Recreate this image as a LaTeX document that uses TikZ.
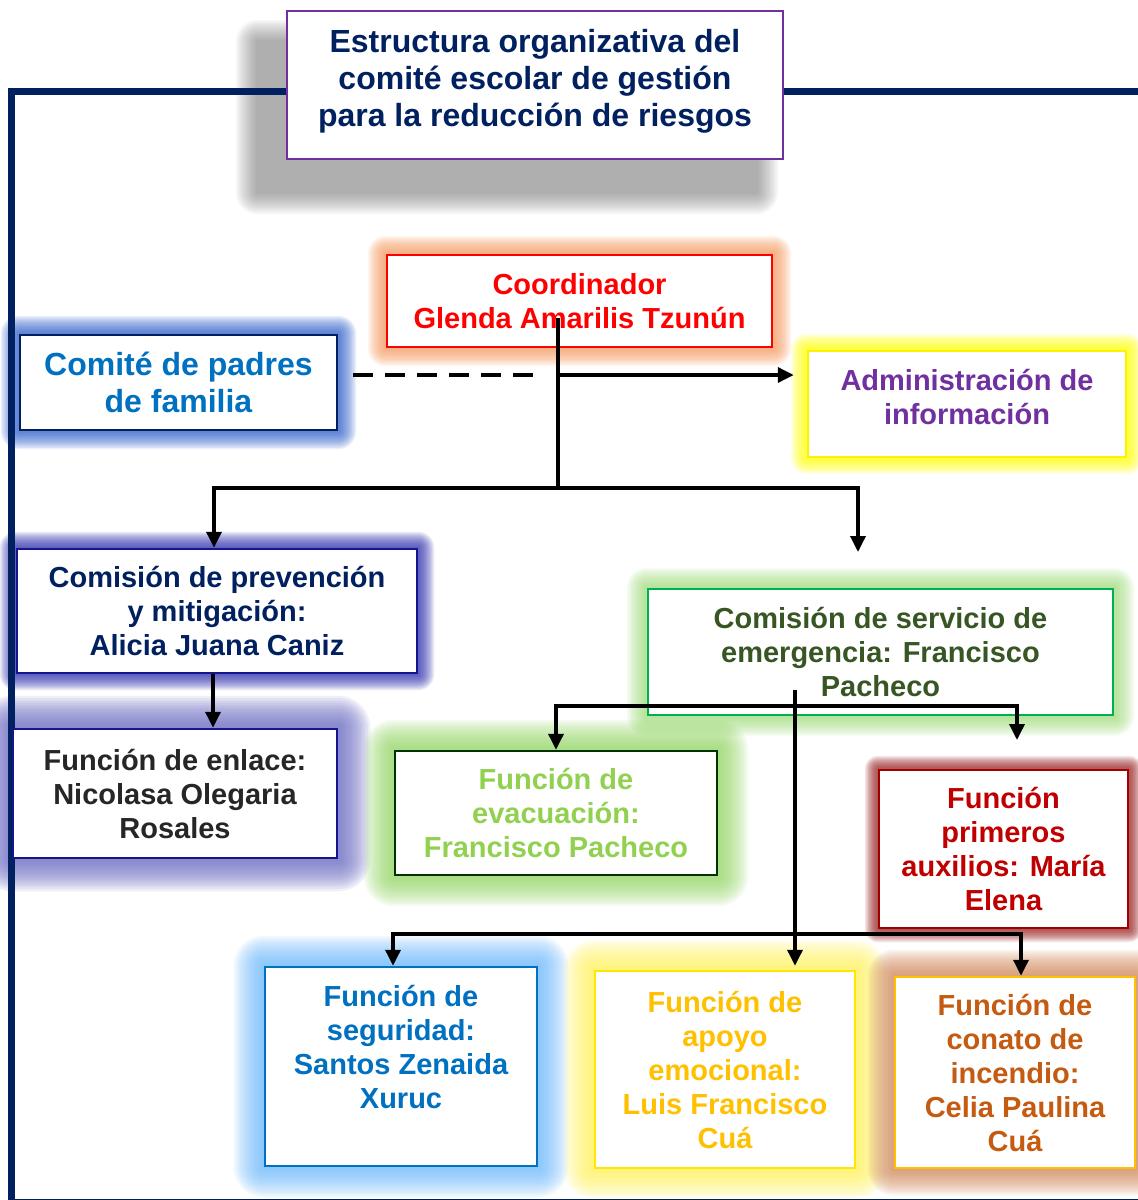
\documentclass[tikz,border=0pt]{standalone}
\usepackage{fontspec}
\setmainfont{Liberation Sans}
\usetikzlibrary{arrows.meta,calc}
\pgfdeclarelayer{background}
\pgfsetlayers{background,main}

\definecolor{navy}{RGB}{0,32,96}
\definecolor{titlepurple}{RGB}{112,48,160}
\definecolor{infopurple}{RGB}{112,48,160}
\definecolor{skyblue}{RGB}{0,112,192}
\definecolor{deepblue}{RGB}{20,20,140}
\definecolor{darktext}{RGB}{38,38,38}
\definecolor{emgreen}{RGB}{0,176,80}
\definecolor{emtext}{RGB}{55,86,35}
\definecolor{evborder}{RGB}{0,51,0}
\definecolor{evtext}{RGB}{146,208,80}
\definecolor{prborder}{RGB}{160,0,0}
\definecolor{prtext}{RGB}{192,0,0}
\definecolor{apborder}{RGB}{255,232,0}
\definecolor{aptext}{RGB}{255,192,0}
\definecolor{coborder}{RGB}{255,192,0}
\definecolor{cotext}{RGB}{197,90,17}
\definecolor{gshadow}{RGB}{80,80,80}
\definecolor{gcoord}{RGB}{245,150,90}
\definecolor{gpadres}{RGB}{40,90,200}
\definecolor{gadmin}{RGB}{255,255,0}
\definecolor{gprev}{RGB}{40,40,170}
\definecolor{genlace}{RGB}{110,110,195}
\definecolor{gemer}{RGB}{150,215,110}
\definecolor{gevac}{RGB}{140,210,90}
\definecolor{gprim}{RGB}{150,30,30}
\definecolor{gseg}{RGB}{100,180,250}
\definecolor{gapoyo}{RGB}{255,240,80}
\definecolor{gconato}{RGB}{205,130,80}

\newcommand{\glowbox}[6]{%
  \foreach \k in {1,...,14}{%
    \pgfmathsetmacro{\glowd}{#3*\k/14}%
    \fill[#2, opacity=#6, rounded corners=\glowd pt]
      ($(#1.south west)+(#4pt-\glowd pt, #5pt-\glowd pt)$) rectangle
      ($(#1.north east)+(#4pt+\glowd pt, #5pt+\glowd pt)$);
  }}

\tikzset{
  box/.style={draw, fill=white, line width=2.5pt, inner sep=0pt, align=center,
    font=\bfseries\fontsize{29}{34}\selectfont},
  conn/.style={line width=3.5pt, black},
  arr/.style={conn, -{Triangle[length=16pt,width=15pt]}},
  dashline/.style={conn, dash pattern=on 20pt off 12pt},
  frameline/.style={line width=7pt, navy}
}

\begin{document}
\begin{tikzpicture}[x=1pt,y=-1pt]
\useasboundingbox (0,0) rectangle (1138,1200);

% boxes
\node[box, draw=titlepurple, text=navy, minimum width=496pt, minimum height=148pt,
  font=\bfseries\fontsize{32}{37}\selectfont] (title) at (535,85)
  {Estructura organizativa del\\comité escolar de gestión\\para la reducción de riesgos\\[-23pt]\mbox{}};
\node[box, draw=red, text=red, minimum width=385pt, minimum height=92pt] (coord) at (579.5,301)
  {Coordinador\\Glenda Amarilis Tzunún};
\node[box, draw=navy, text=skyblue, minimum width=317pt, minimum height=95pt,
  font=\bfseries\fontsize{32}{37}\selectfont] (padres) at (178.5,382.5)
  {Comité de padres\\de familia};
\node[box, draw=yellow, text=infopurple, minimum width=318pt, minimum height=106pt] (admin) at (967,404)
  {Administración de\\información\\[-20pt]\mbox{}};
\node[box, draw=deepblue, text=navy, minimum width=400pt, minimum height=124pt] (prev) at (217,611)
  {Comisión de prevención\\y mitigación:\\Alicia Juana Caniz};
\node[box, draw=deepblue, text=darktext, minimum width=324pt, minimum height=129pt] (enlace) at (175,793.5)
  {Función de enlace:\\Nicolasa Olegaria\\Rosales};
\node[box, draw=emgreen, text=emtext, minimum width=465pt, minimum height=126pt] (emer) at (880.5,652)
  {Comisión de servicio de\\emergencia: Francisco\\Pacheco};
\node[box, draw=evborder, text=evtext, minimum width=322pt, minimum height=124pt] (evac) at (556,813)
  {Función de\\evacuación:\\Francisco Pacheco};
\node[box, draw=prborder, text=prtext, minimum width=249pt, minimum height=158pt] (prim) at (1003.5,849)
  {Función\\primeros\\auxilios: María\\Elena};
\node[box, draw=skyblue, text=skyblue, minimum width=272pt, minimum height=199pt] (seg) at (401,1066.5)
  {Función de\\seguridad:\\Santos Zenaida\\Xuruc\\[6pt]\mbox{}};
\node[box, draw=apborder, text=aptext, minimum width=260pt, minimum height=197pt] (apoyo) at (725,1069.5)
  {Función de\\apoyo\\emocional:\\Luis Francisco\\Cuá};
\node[box, draw=coborder, text=cotext, minimum width=240pt, minimum height=191pt] (conato) at (1015,1072.5)
  {Función de\\conato de\\incendio:\\Celia Paulina\\Cuá};

% glows, shadow and frame
\begin{pgfonlayer}{background}
\glowbox{title}{gshadow}{22}{-28}{-32}{0.045}
\glowbox{coord}{gcoord}{18}{0}{0}{0.09}
\glowbox{padres}{gpadres}{18}{0}{0}{0.09}
\glowbox{admin}{gadmin}{16}{0}{0}{0.09}
\glowbox{prev}{gprev}{16}{0}{0}{0.09}
\glowbox{enlace}{genlace}{32}{0}{0}{0.11}
\glowbox{emer}{gemer}{20}{0}{0}{0.08}
\glowbox{evac}{gevac}{30}{0}{0}{0.09}
\glowbox{prim}{gprim}{13}{0}{0}{0.09}
\glowbox{seg}{gseg}{30}{0}{0}{0.09}
\glowbox{apoyo}{gapoyo}{30}{0}{0}{0.09}
\glowbox{conato}{gconato}{26}{0}{0}{0.09}
\draw[frameline] (1145,91) -- (11,91) -- (11,1202) -- (1145,1202);
\end{pgfonlayer}

% connectors
\coordinate (cTop) at (558,318);
\coordinate (cA) at (558,375);
\coordinate (cJ) at (558,488);
\coordinate (cR) at (858,552);
\coordinate (pS) at ([xshift=-4pt]prev.south);
\draw[conn] (cTop) -- (cJ);
\draw[arr] (cJ) -| ([xshift=-3pt]prev.north);
\draw[arr] (cJ) -| (cR);
\draw[arr, shorten >=13pt] (cA) -- (cA -| admin.west);
\draw[dashline, shorten <=15pt, shorten >=13pt] (cA -| padres.east) -- (cA);
\draw[arr] (pS) -- (pS |- enlace.north);

\coordinate (eTop) at (795,690);
\coordinate (eJ) at (795,706);
\coordinate (ePr) at (1017,740);
\coordinate (bJ) at (795,934);
\draw[arr, shorten >=4pt] (eTop) -- (eTop |- apoyo.north);
\draw[arr] (eJ) -| (evac.north);
\draw[arr] (eJ) -| (ePr);
\draw[arr] (bJ) -| ([xshift=-8pt]seg.north);
\draw[arr] (bJ) -| ([xshift=6pt]conato.north);
\end{tikzpicture}
\end{document}
